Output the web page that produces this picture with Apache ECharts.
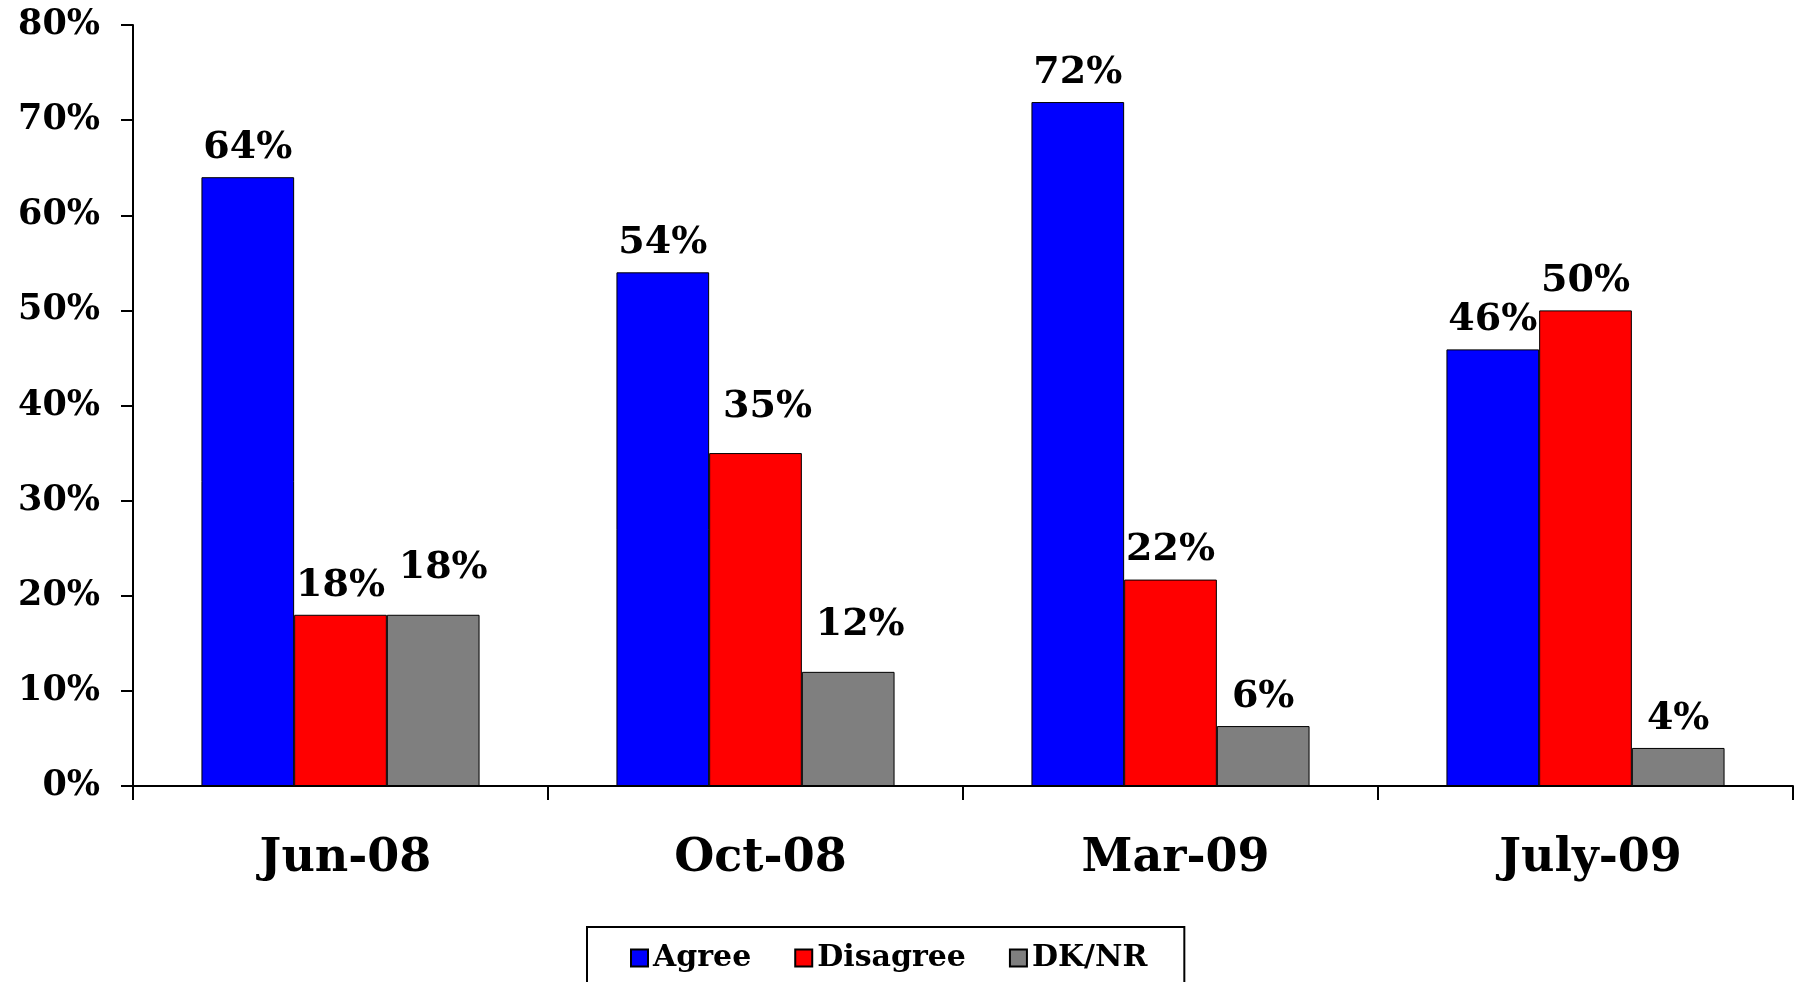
<!DOCTYPE html>
<html>
<head>
<meta charset="utf-8">
<script src="https://cdn.jsdelivr.net/npm/echarts@6/dist/echarts.min.js"></script>
<style>
html,body{margin:0;padding:0;background:#fff;}
#chart{width:1795px;height:982px;}
</style>
</head>
<body>
<div id="chart"></div>
<script>
const categories = ['Jun-08', 'Oct-08', 'Mar-09', 'July-09'];
const seriesNames = ['Agree', 'Disagree', 'DK/NR'];
const agree = [64, 54, 71.9, 45.9];
const disagree = [18, 35, 21.7, 50];
const dknr = [18, 12, 6.3, 4];
const yTicks = [0, 10, 20, 30, 40, 50, 60, 70, 80];

const FONT = "'DejaVu Serif', 'Liberation Serif', serif";
const colors = ['#0000FF', '#FF0000', '#7F7F7F'];

// small label nudges seen in the original (Excel-placed labels)
const labelNudge = {
  'DK/NR': {0: [10, -18], 1: [12, -18]},
  'Disagree': {1: [12, -17]}
};

function buildData(name, arr) {
  return arr.map((v, i) => {
    const item = {value: v};
    if (labelNudge[name] && labelNudge[name][i]) {
      item.label = {offset: labelNudge[name][i]};
    }
    return item;
  });
}

const allValues = [agree, disagree, dknr];
const chart = echarts.init(document.getElementById('chart'));
chart.setOption({
  backgroundColor: '#ffffff',
  animation: false,
  grid: {left: 133, right: 2, top: 25, bottom: 196, containLabel: false},
  legend: {
    data: seriesNames,
    left: 587,
    top: 927,
    orient: 'horizontal',
    itemWidth: 17,
    itemHeight: 17,
    itemGap: 43,
    icon: 'rect',
    borderColor: '#000',
    borderWidth: 2,
    padding: [16, 37, 60, 43],
    textStyle: {fontFamily: FONT, fontWeight: 'bold', fontSize: 30, color: '#000'}
  },
  xAxis: {
    type: 'category',
    data: categories,
    axisLine: {lineStyle: {color: '#000', width: 2}},
    axisTick: {show: true, length: 14, lineStyle: {color: '#000', width: 2}},
    axisLabel: {fontFamily: FONT, fontWeight: 'bold', fontSize: 46, color: '#000', margin: 50, padding: [0, 0, 0, 10]},
    splitLine: {show: false}
  },
  yAxis: {
    type: 'value',
    min: yTicks[0],
    max: yTicks[yTicks.length - 1],
    interval: 10,
    axisLine: {show: true, lineStyle: {color: '#000', width: 2}},
    axisTick: {show: true, length: 12, lineStyle: {color: '#000', width: 2}},
    axisLabel: {formatter: '{value}%', fontFamily: FONT, fontWeight: 'bold', fontSize: 35, color: '#000', margin: 33},
    splitLine: {show: false}
  },
  series: seriesNames.map((name, k) => ({
    name: name,
    type: 'bar',
    data: buildData(name, allValues[k]),
    barWidth: 92.7,
    barGap: '0%',
    itemStyle: {color: colors[k], borderColor: '#000', borderWidth: 1},
    label: {
      show: true,
      position: 'top',
      distance: 10,
      formatter: p => Math.round(p.value) + '%',
      fontFamily: FONT,
      fontWeight: 'bold',
      fontSize: 38,
      color: '#000'
    }
  }))
});
</script>
</body>
</html>
